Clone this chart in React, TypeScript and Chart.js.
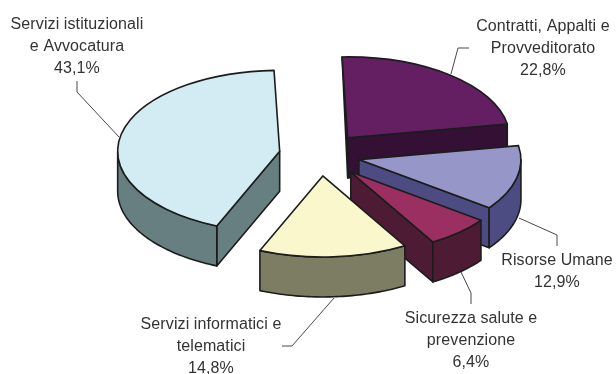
import React, { useEffect, useRef } from "react";
import { Chart, registerables } from "chart.js";

Chart.register(...registerables);

const categories = [
  "Contratti, Appalti e Provveditorato",
  "Risorse Umane",
  "Sicurezza salute e prevenzione",
  "Servizi informatici e telematici",
  "Servizi istituzionali e Avvocatura",
];
const shares = [22.8, 12.9, 6.4, 14.8, 43.1];
const labelLines = [
  ["Contratti, Appalti e", "Provveditorato", "22,8%"],
  ["Risorse Umane", "12,9%"],
  ["Sicurezza salute e", "prevenzione", "6,4%"],
  ["Servizi informatici e", "telematici", "14,8%"],
  ["Servizi istituzionali", "e Avvocatura", "43,1%"],
];

const topColors = ["#641F63", "#9696C8", "#9B2F62", "#FAF7CC", "#D3EBF3"];
const sideColors = ["#331034", "#4C4C82", "#4D1B33", "#7D7D63", "#677F80"];
const explode = [44, 40, 46, 42, 41];

const SQUASH = 0.5;
const DEPTH = 40;
const OUTLINE = "#1c1c1c";
const TEXT = "#333333";

// label layout: centre x, first baseline y
const labelPos = [
  [543, 31],
  [557, 265],
  [471, 323],
  [211, 329],
  [77, 29],
];
const leaders = [
  [[451, 74], [458, 48], [469, 48]],
  [[519, 218], [557, 235], [557, 246]],
  [[461, 272], [471, 293], [471, 304]],
  [[334, 298], [292, 346], [282, 346]],
  [[119, 137], [77, 92], [77, 81]],
];
const lineHeight = 22;

function geom(a: any, i: number) {
  const mid = (a.startAngle + a.endAngle) / 2;
  const o = explode[i];
  return {
    x: a.x + Math.cos(mid) * o,
    y: a.y + Math.sin(mid) * o * SQUASH,
    r: a.outerRadius,
  };
}

const pieProjection = {
  id: "pieProjection",
  beforeDatasetDraw(chart: any) {
    const ctx = chart.ctx;
    const arcs = chart.getDatasetMeta(0).data;
    // side walls, back to front
    arcs.forEach((a: any, i: number) => {
      const c = geom(a, i);
      const pt = (ang: number) => [c.x + Math.cos(ang) * c.r, c.y + Math.sin(ang) * c.r * SQUASH];
      ctx.save();
      ctx.fillStyle = sideColors[i];
      ctx.strokeStyle = OUTLINE;
      ctx.lineWidth = 1.6;
      ctx.lineJoin = "round";
      const paint = (pts: number[][]) => {
        ctx.beginPath();
        pts.forEach((p, k) => (k ? ctx.lineTo(p[0], p[1]) : ctx.moveTo(p[0], p[1])));
        ctx.closePath();
        ctx.fill();
        ctx.stroke();
      };
      const PI2 = Math.PI * 2;
      const s = a.startAngle;
      const e = a.endAngle;
      // radial cut at the start of the slice
      if (Math.cos(s) < 0) {
        const p = pt(s);
        if (p[1] < c.y) paint([p, [c.x, c.y], [c.x, c.y + DEPTH]]);
        else paint([p, [c.x, c.y], [c.x, c.y + DEPTH], [p[0], p[1] + DEPTH]]);
      }
      // radial cut at the end of the slice
      if (Math.cos(e) > 0) {
        const p = pt(e);
        paint([p, [c.x, c.y], [c.x, c.y + DEPTH], [p[0], p[1] + DEPTH]]);
      }
      // outer wall, front half only
      for (const k of [0, 1]) {
        const lo = Math.max(s, k * PI2);
        const hi = Math.min(e, Math.PI + k * PI2);
        if (hi > lo) {
          const n = 48;
          const pts: number[][] = [];
          for (let j = 0; j <= n; j++) pts.push(pt(lo + ((hi - lo) * j) / n));
          for (let j = n; j >= 0; j--) {
            const p = pt(lo + ((hi - lo) * j) / n);
            pts.push([p[0], p[1] + DEPTH]);
          }
          paint(pts);
        }
      }
      ctx.restore();
    });
    // top faces: the library's own arc elements, projected
    arcs.forEach((a: any, i: number) => {
      const c = geom(a, i);
      ctx.save();
      ctx.translate(c.x, c.y);
      ctx.scale(1, SQUASH);
      ctx.translate(-a.x, -a.y);
      a.draw(ctx);
      ctx.restore();
      ctx.save();
      ctx.beginPath();
      ctx.moveTo(c.x, c.y);
      ctx.ellipse(c.x, c.y, c.r, c.r * SQUASH, 0, a.startAngle, a.endAngle);
      ctx.closePath();
      ctx.strokeStyle = OUTLINE;
      ctx.lineWidth = 1.6;
      ctx.lineJoin = "round";
      ctx.stroke();
      ctx.restore();
    });
    return false;
  },
  afterDatasetsDraw(chart: any) {
    const ctx = chart.ctx;
    ctx.save();
    ctx.strokeStyle = "#333333";
    ctx.lineWidth = 0.9;
    leaders.forEach((l) => {
      ctx.beginPath();
      l.forEach((p, k) => (k ? ctx.lineTo(p[0], p[1]) : ctx.moveTo(p[0], p[1])));
      ctx.stroke();
    });
    ctx.fillStyle = TEXT;
    ctx.font = '16px "Liberation Sans", Arial, sans-serif';
    (ctx as any).letterSpacing = "0.1px";
    ctx.textAlign = "center";
    ctx.textBaseline = "alphabetic";
    labelLines.forEach((lines, i) => {
      lines.forEach((t, k) => {
        ctx.fillText(t, labelPos[i][0], labelPos[i][1] + k * lineHeight);
      });
    });
    ctx.restore();
  },
};

export default function App() {
  const ref = useRef<HTMLCanvasElement | null>(null);
  useEffect(() => {
    const chart = new Chart(ref.current as HTMLCanvasElement, {
      type: "pie",
      data: {
        labels: categories,
        datasets: [
          {
            data: shares,
            backgroundColor: topColors,
            borderWidth: 0,
          } as any,
        ],
      },
      options: {
        responsive: false,
        animation: false,
        rotation: -2,
        radius: 162,
        layout: { padding: { left: 24, bottom: 64 } },
        plugins: { legend: { display: false }, tooltip: { enabled: false } },
        events: [],
      } as any,
      plugins: [pieProjection],
    });
    return () => chart.destroy();
  }, []);
  return (
    <div style={{ position: "fixed", left: 0, top: 0, width: 616, height: 374, background: "#fff" }}>
      <canvas ref={ref} width={616} height={374} style={{ display: "block" }} />
    </div>
  );
}
